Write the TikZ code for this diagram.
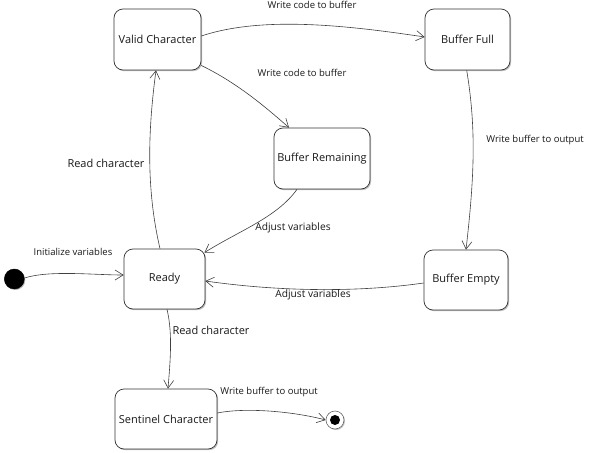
\documentclass[tikz,border=0pt]{standalone}
\usepackage{fontspec}
\setmainfont{Open Sans}
\usetikzlibrary{arrows.meta,calc,shadows}
\begin{document}
\begin{tikzpicture}[x=1pt,y=-1pt,
  state/.style={draw=black!80, line width=0.7pt, rounded corners=9pt, fill=white,
    align=center, inner sep=0pt, font=\fontsize{11}{13}\selectfont, text=black!90,
    drop shadow={shadow xshift=1.2pt, shadow yshift=-1.2pt, opacity=0.25, fill=black}},
  tr/.style={draw=black!75, line width=0.6pt, -{Straight Barb[length=8pt,width=10pt]}},
  lbl/.style={font=\fontsize{9.5}{11}\selectfont, text=black!90, inner sep=0pt},
  lblm/.style={font=\fontsize{10.2}{12}\selectfont, text=black!90, inner sep=0pt},
  lblb/.style={font=\fontsize{11}{13}\selectfont, text=black!90, inner sep=0pt},
]
\useasboundingbox (0,0) rectangle (598,453);
\fill[white] (0,0) rectangle (598,453);

\node[state, minimum width=87pt, minimum height=61pt] (vc) at (157.5,39.5) {Valid Character};
\node[state, minimum width=85pt, minimum height=61pt] (bf) at (467.5,39.5) {Buffer Full};
\node[state, minimum width=96pt, minimum height=61pt] (br) at (322,158.5) {Buffer Remaining};
\node[state, minimum width=81pt, minimum height=60pt] (rd) at (164.5,279) {Ready};
\node[state, minimum width=84pt, minimum height=60pt] (be) at (466,280) {Buffer Empty};
\node[state, minimum width=102pt, minimum height=60pt] (sc) at (166,419) {Sentinel Character};

\node[circle, fill=black, draw=black, minimum size=20pt, inner sep=0pt,
  drop shadow={shadow xshift=1pt, shadow yshift=-1pt, opacity=0.3, fill=black}] (init) at (14.3,279) {};
\node[circle, draw=black!60, fill=white, line width=0.6pt, minimum size=18pt, inner sep=0pt,
  drop shadow={shadow xshift=1pt, shadow yshift=-1pt, opacity=0.25, fill=black}] (fin) at (335,420) {};
\node[circle, fill=black, minimum size=10pt, inner sep=0pt] (finin) at (fin) {};

% transitions
\draw[tr] ($(vc.east)+(0,-3.5)$) .. controls +(60,-20) and +(-80,-12) .. ($(bf.west)+(0,-2.5)$);
\draw[tr] ($(vc.east)+(0,26)$) .. controls +(35,17) and +(-25,-22) .. ($(br.north)+(-33,0)$);
\draw[tr] ($(bf.south)+(-0.8,0)$) .. controls +(10,60) and +(8,-70) .. (be.north);
\draw[tr] ($(br.south)+(-25,0)$) .. controls +(-20,28) and +(35,-22) .. ($(rd.north east)+(-1,4)$);
\draw[tr] ($(be.west)+(0,3)$) .. controls +(-70,10) and +(70,10) .. ($(rd.east)+(0,2)$);
\draw[tr] ($(rd.north)+(-4.5,0)$) .. controls +(-14,-60) and +(-8,60) .. ($(vc.south)+(-1.5,0)$);
\draw[tr] ($(init.east)+(0,-1)$) .. controls +(25,-8) and +(-30,0) .. ($(rd.west)+(0,-4)$);
\draw[tr] ($(rd.south)+(2.5,0)$) .. controls +(6,25) and +(2,-25) .. ($(sc.north)+(2,0)$);
\draw[tr] ($(sc.east)+(0,-6)$) .. controls +(30,-6) and +(-30,-8) .. (fin.west);

% labels
\node[lbl] (l1) at (312,5) {Write code to buffer};
\node[lbl] (l2) at (302,73) {Write code to buffer};
\node[lbl] (l3) at (535,140) {Write buffer to output};
\node[lblm] (l4) at (293,228) {Adjust variables};
\node[lblm] (l5) at (313,295) {Adjust variables};
\node[lblb] (l6) at (106,163) {Read character};
\node[lbl] (l7) at (73,252) {Initialize variables};
\node[lblb] (l8) at (211,330) {Read character};
\node[lbl] (l9) at (269,392) {Write buffer to output};
\end{tikzpicture}
\end{document}
